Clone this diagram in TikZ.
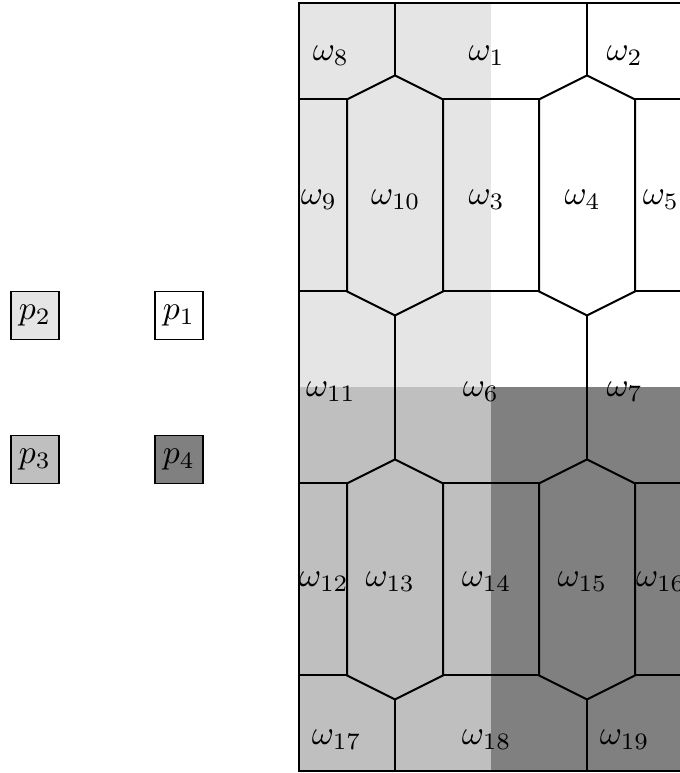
\documentclass[tikz,border=0pt]{standalone}
\usepackage{tikz}
\definecolor{lightg}{gray}{0.9}
\definecolor{midg}{gray}{0.75}
\definecolor{darkg}{gray}{0.5}
\tikzset{
  cell/.style={line width=0.6pt, line join=miter},
  lab/.style={inner sep=0pt, anchor=center},
  pbox/.style={draw, line width=0.4pt, minimum size=0.5cm, inner sep=0pt}
}
\begin{document}
\begin{tikzpicture}[x=1cm,y=-1cm]
\useasboundingbox (-3.115,-0.036) rectangle (3.968,8.016);
% shading
\fill[lightg] (0,0) rectangle (2,4);
\fill[white] (2,0) rectangle (4,4);
\fill[midg] (0,4) rectangle (2,8);
\fill[darkg] (2,4) rectangle (4,8);
% legend boxes
\node[pbox, fill=lightg] (p2) at (-2.75,3.25) {$p_2$};
\node[pbox, fill=white] (p1) at (-1.25,3.25) {$p_1$};
\node[pbox, fill=midg] (p3) at (-2.75,4.75) {$p_3$};
\node[pbox, fill=darkg] (p4) at (-1.25,4.75) {$p_4$};
% tessellation
\begin{scope}[cell]
\draw (0,0) rectangle (4,8);
\foreach \c in {1,3} {
  \draw (\c,0) -- (\c,0.75);
  \draw (\c,0.75) -- (\c+0.5,1) -- (\c+0.5,3) -- (\c,3.25) -- (\c-0.5,3) -- (\c-0.5,1) -- cycle;
  \draw (\c,3.25) -- (\c,4.75);
  \draw (\c,4.75) -- (\c+0.5,5) -- (\c+0.5,7) -- (\c,7.25) -- (\c-0.5,7) -- (\c-0.5,5) -- cycle;
  \draw (\c,7.25) -- (\c,8);
}
\foreach \y in {1,3,5,7} {
  \draw (0,\y) -- (0.5,\y);
  \draw (1.5,\y) -- (2.5,\y);
  \draw (3.5,\y) -- (4,\y);
}
\end{scope}
% labels
\node[lab] (w8) at (0.333,0.54) {$\omega_8$};
\node[lab] (w1) at (1.955,0.54) {$\omega_1$};
\node[lab] (w2) at (3.393,0.54) {$\omega_2$};
\node[lab] (w9) at (0.208,2.04) {$\omega_9$};
\node[lab] (w10) at (1.008,2.04) {$\omega_{10}$};
\node[lab] (w3) at (1.955,2.04) {$\omega_3$};
\node[lab] (w4) at (2.956,2.04) {$\omega_4$};
\node[lab] (w5) at (3.769,2.04) {$\omega_5$};
\node[lab] (w11) at (0.333,4.04) {$\omega_{11}$};
\node[lab] (w6) at (1.894,4.04) {$\omega_6$};
\node[lab] (w7) at (3.393,4.04) {$\omega_7$};
\node[lab] (w12) at (0.26,6.025) {$\omega_{12}$};
\node[lab] (w13) at (0.951,6.025) {$\omega_{13}$};
\node[lab] (w14) at (1.955,6.025) {$\omega_{14}$};
\node[lab] (w15) at (2.953,6.025) {$\omega_{15}$};
\node[lab] (w16) at (3.77,6.025) {$\omega_{16}$};
\node[lab] (w17) at (0.393,7.665) {$\omega_{17}$};
\node[lab] (w18) at (1.955,7.665) {$\omega_{18}$};
\node[lab] (w19) at (3.393,7.665) {$\omega_{19}$};
\end{tikzpicture}
\end{document}
